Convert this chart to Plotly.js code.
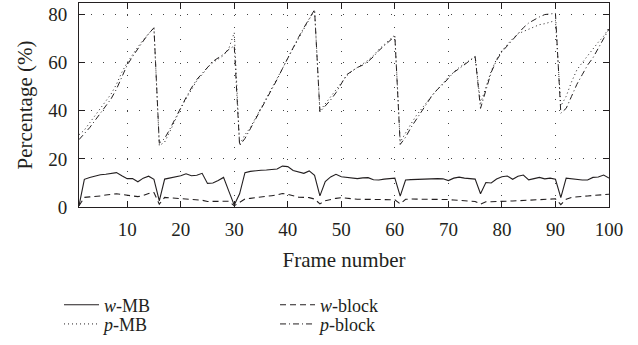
<!DOCTYPE html>
<html><head><meta charset="utf-8">
<script src="https://cdn.plot.ly/plotly-3.0.1.min.js"></script>
<style>html,body{margin:0;padding:0;background:#fff}#chart{width:638px;height:345px}</style>
</head><body><div id="chart"></div>
<script>
const frames = Array.from({length: 100}, (_, i) => i + 1);

const wMB = [
  0.5, 11.5, 12.3, 13, 13.4, 13.6, 13.9, 14.3, 13, 11.8,
  11.8, 10.5, 12, 12.8, 11.5, 2.5, 11.6, 12, 12.4, 13,
  13.8, 13, 13.2, 14, 9.8, 10, 11, 12.3, 6.5, 0.8,
  5.5, 14.3, 14.8, 15.2, 15.3, 15.4, 15.5, 15.8, 17, 16.8,
  15.2, 14.5, 14, 15, 13.2, 4.6, 10.6, 12.5, 13.6, 12.6,
  12.3, 12, 11.8, 12.1, 12.2, 11.3, 11.2, 11.6, 11.8, 12,
  4.5, 11.2, 11.4, 11.5, 11.6, 11.7, 11.8, 11.8, 11.7, 11,
  12, 12.4, 12, 11.8, 11.6, 5.5, 10.2, 10, 11.6, 12.6,
  12.9, 11.5, 12.8, 13.3, 11.3, 11.8, 12.3, 11.7, 12, 11.5,
  3.9, 12, 11.7, 11.4, 11.2, 11.2, 12.3, 12.5, 13.3, 12
];

const wBlock = [
  0.5, 4, 4.2, 4.3, 4.6, 5, 5.3, 5.5, 5.2, 5,
  4.6, 4.3, 4.8, 5.6, 6, 1.2, 4, 3.8, 3.6, 3.6,
  3.5, 3.3, 3, 2.8, 2.3, 2.3, 2.5, 2.6, 2.4, 0.5,
  2, 3.3, 3.6, 3.8, 4, 4.3, 4.7, 5, 5.6, 5.3,
  4.6, 4.1, 4, 3.9, 3.3, 1.3, 2.6, 3.2, 3.6, 3.9,
  3.6, 3.3, 3.2, 3.2, 3.2, 3.2, 3.2, 3.3, 3.3, 3,
  1.3, 3.2, 3.3, 3.3, 3.3, 3.3, 3.3, 3.2, 3.2, 3.1,
  2.9, 2.7, 2.6, 2.6, 2.3, 1.2, 2.2, 2.2, 2.2, 2.2,
  2.3, 2.5, 2.6, 2.7, 2.9, 3, 3.1, 3.3, 3.5, 3.4,
  1, 3.2, 4, 4.3, 4.5, 4.6, 4.8, 5, 5.2, 5.3
];

const pMB = [
  30, 32, 35, 38, 41, 44, 47, 51, 56, 60,
  63.5, 66.5, 69.5, 72, 74.5, 25.5, 27, 31.5, 36.5, 41,
  45, 49, 52.5, 55, 58, 60, 61.5, 63, 66, 72.5,
  26, 30, 33, 37, 41, 45, 49, 53, 57.5, 62,
  66, 70, 74, 78, 82, 40, 43, 46, 49, 52,
  54.5, 56.5, 58, 59.5, 61, 63, 65.5, 67.5, 69.5, 71.5,
  27, 31, 34.5, 38, 41, 44, 46.5, 49, 51.5, 54,
  56, 58, 59.5, 61, 62.5, 43, 50, 56.5, 61.5, 65,
  67.5, 70, 72, 73, 74, 75, 75.8, 76.2, 76.8, 77.5,
  42, 46, 52, 57, 60, 63, 66, 68.5, 71, 74.5
];

const pBlock = [
  28, 30.5, 33, 36, 39, 42, 45, 49, 54, 59,
  62.5, 66, 69, 72, 74.5, 26.5, 28.5, 32.5, 37, 41.5,
  45.5, 49.5, 53, 55.5, 58, 60.5, 62, 63.5, 65.5, 67,
  25.5, 28.5, 32.5, 36.5, 41, 45, 49, 53, 57.5, 62,
  66.5, 70.5, 74.5, 78.5, 82, 39.5, 42, 44.5, 47.5, 51.5,
  55, 56.5, 58, 59, 60.5, 62.5, 65, 67, 69, 71,
  26, 29, 33, 36.5, 40, 43.5, 46.5, 49, 51, 53.5,
  56, 57.5, 59.2, 61, 62.5, 41, 49, 56, 61, 64.5,
  67, 69.5, 72, 74.5, 76.5, 77.8, 79, 80, 80.3, 80.5,
  39, 41, 46, 51, 55, 59, 62, 66, 70, 74
];

const seriesNames = ['<i>w</i>-MB', '<i>w</i>-block', '<i>p</i>-MB', '<i>p</i>-block'];
const xTicks = [10, 20, 30, 40, 50, 60, 70, 80, 90, 100];
const yTicks = [0, 20, 40, 60, 80];

const ink = '#231f20';
const fam = '"Liberation Serif", "DejaVu Serif", serif';

const traces = [
  {x: frames, y: wMB, name: seriesNames[0], legend: 'legend', mode: 'lines', line: {color: ink, width: 1.1, dash: 'solid'}},
  {x: frames, y: wBlock, name: seriesNames[1], legend: 'legend', mode: 'lines', line: {color: ink, width: 1.1, dash: '6px,4px'}},
  {x: frames, y: pMB, name: seriesNames[2], legend: 'legend2', mode: 'lines', line: {color: ink, width: 1, dash: '1px,3px'}},
  {x: frames, y: pBlock, name: seriesNames[3], legend: 'legend2', mode: 'lines', line: {color: ink, width: 1, dash: '6px,3px,1px,3px'}}
];

const axisCommon = {
  ticks: 'inside', ticklen: 6, tickwidth: 1, tickcolor: ink,
  showline: true, linecolor: ink, linewidth: 1, mirror: 'ticks',
  showgrid: true, gridcolor: '#444', gridwidth: 1, griddash: '1px,11px',
  zeroline: false, tickfont: {family: fam, size: 19, color: ink}
};

const legendCommon = {
  orientation: 'h', x: -0.0377, xanchor: 'left', yanchor: 'top',
  entrywidth: 166, entrywidthmode: 'pixels', itemwidth: 35, bgcolor: 'rgba(0,0,0,0)',
  font: {family: fam, size: 18, color: ink}, traceorder: 'normal'
};

const layout = {
  width: 638, height: 345,
  margin: {l: 79, r: 29, t: 3, b: 138},
  paper_bgcolor: '#fff', plot_bgcolor: '#fff',
  font: {family: fam, size: 18, color: ink},
  showlegend: true,
  legend: Object.assign({}, legendCommon, {y: -0.39}),
  legend2: Object.assign({}, legendCommon, {y: -0.484}),
  xaxis: Object.assign({}, axisCommon, {
    range: [1, 100], tickvals: xTicks, ticktext: xTicks.map(String), ticklabelstandoff: 5,
    title: {text: 'Frame number', font: {family: fam, size: 21, color: ink}, standoff: 13}
  }),
  yaxis: Object.assign({}, axisCommon, {
    range: [0, 84.8], tickvals: yTicks, ticktext: yTicks.map(String), ticklabelstandoff: 7,
    title: {text: 'Percentage (%)', font: {family: fam, size: 21, color: ink}, standoff: 9}
  })
};

Plotly.newPlot('chart', traces, layout, {staticPlot: true, displayModeBar: false});
</script>
</body></html>
